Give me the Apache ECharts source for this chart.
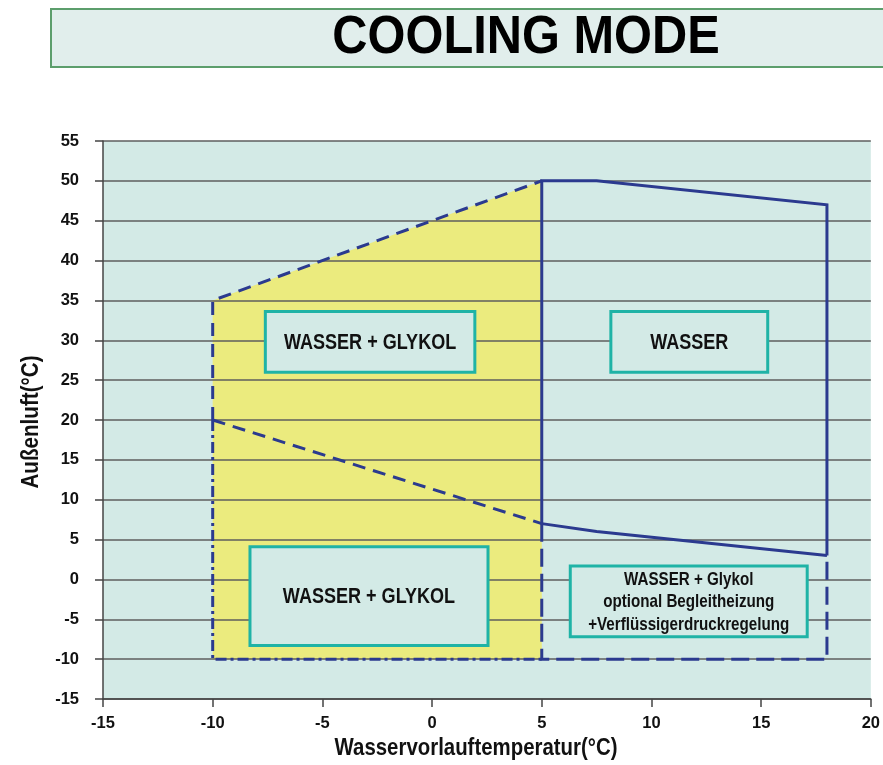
<!DOCTYPE html>
<html>
<head>
<meta charset="utf-8">
<script src="https://cdn.jsdelivr.net/npm/echarts@6/dist/echarts.min.js"></script>
<style>html,body{margin:0;padding:0;background:#fff}#c{width:883px;height:765px}</style>
</head>
<body>
<div id="c"></div>
<script>
// ---- data ----
const xTicks = [-15, -10, -5, 0, 5, 10, 15, 20];
const yTicks = [-15, -10, -5, 0, 5, 10, 15, 20, 25, 30, 35, 40, 45, 50, 55];
// yellow (water + glycol) region
const glycolArea = [[-10, -10], [-10, 35], [5, 50], [5, -10]];
// envelope boundary paths
const solidUpper = [[5, 7], [5, 50], [7.5, 50], [18, 47], [18, 3]];
const solidLower = [[5, 7], [7.5, 6], [18, 3]];
const dashedTop = [[-10, 20], [-10, 35], [5, 50]];
const dashedLower = [[-10, 20], [5, 7]];
const dashedRight = [[5, 7], [5, -10], [18, -10], [18, 3]];
const dashDotLeft = [[-10, 20], [-10, -10], [5, -10]];
// annotation boxes [x1, y1, x2, y2]
const boxes = [[-7.6, 33.6, 1.95, 26.0], [8.15, 33.6, 15.3, 26.0], [-8.3, 4.1, 2.55, -8.3], [6.3, 1.7, 17.1, -7.2]];
const boxTexts = ['WASSER + GLYKOL', 'WASSER', 'WASSER + GLYKOL', 'WASSER + Glykol\noptional Begleitheizung\n+Verflüssigerdruckregelung'];
const boxFontSizes = [22, 22, 22, 18.5];

const NAVY = '#2b3a8f';
const FONT = '"Liberation Sans", Arial, sans-serif';
const NARROW = 0.82;

function lineSeries(data, type) {
  return {
    type: 'line', data: data, symbol: 'none', z: 4, silent: true,
    lineStyle: { color: NAVY, width: 3, type: type, cap: 'butt', join: 'miter' },
    animation: false
  };
}

const chart = echarts.init(document.getElementById('c'), null, { renderer: 'canvas' });
chart.setOption({
  animation: false,
  grid: { left: 103, right: 10, top: 141, bottom: 66, show: true, backgroundColor: '#d3eae6', borderWidth: 0 },
  xAxis: {
    type: 'value', min: -15, max: 20, interval: 5, z: 3,
    axisLine: { show: true, onZero: false, lineStyle: { color: '#444', width: 1.5 } },
    axisTick: { show: true, length: 8, lineStyle: { color: '#444', width: 1.5 } },
    splitLine: { show: false },
    axisLabel: { margin: 16, fontFamily: FONT, fontWeight: 'bold', fontSize: 16.5, color: '#111',
      formatter: v => xTicks.indexOf(v) >= 0 ? String(v) : '' }
  },
  yAxis: {
    type: 'value', min: -15, max: 55, interval: 5, z: 3,
    axisLine: { show: true, onZero: false, lineStyle: { color: '#444', width: 1.5 } },
    axisTick: { show: true, length: 8, lineStyle: { color: '#444', width: 1.5 } },
    splitLine: { show: true, lineStyle: { color: '#5e5e5e', width: 1.6 } },
    axisLabel: { margin: 24, fontFamily: FONT, fontWeight: 'bold', fontSize: 16.5, color: '#111',
      formatter: v => yTicks.indexOf(v) >= 0 ? String(v) : '' }
  },
  series: [
    {
      type: 'custom', z: 1, silent: true, data: [0],
      renderItem: function (params, api) {
        const pts = glycolArea.map(p => api.coord(p));
        return { type: 'polygon', shape: { points: pts }, style: { fill: '#ebeb7e' } };
      }
    },
    lineSeries(solidUpper, 'solid'),
    lineSeries(solidLower, 'solid'),
    lineSeries(dashedTop, [13, 8]),
    lineSeries(dashedLower, [13, 8]),
    lineSeries(dashedRight, [18, 7]),
    lineSeries(dashDotLeft, [11, 4, 3, 4]),
    {
      type: 'custom', z: 5, silent: true, data: boxes,
      renderItem: function (params, api) {
        const b = boxes[params.dataIndex];
        const p1 = api.coord([b[0], b[1]]);
        const p2 = api.coord([b[2], b[3]]);
        const fs = boxFontSizes[params.dataIndex];
        return {
          type: 'group',
          children: [
            { type: 'rect', shape: { x: p1[0], y: p1[1], width: p2[0] - p1[0], height: p2[1] - p1[1] },
              style: { fill: '#d3eae6', stroke: '#1fb3a6', lineWidth: 3 } },
            { type: 'text', x: (p1[0] + p2[0]) / 2, y: (p1[1] + p2[1]) / 2 + 1, scaleX: NARROW,
              style: { x: 0, y: 0,
              text: boxTexts[params.dataIndex], align: 'center', verticalAlign: 'middle',
              font: 'bold ' + fs + 'px ' + FONT, fill: '#111', lineHeight: fs * 1.2 } }
          ]
        };
      }
    }
  ],
  graphic: [
    { type: 'rect', left: 50, top: 8, shape: { width: 850, height: 58 },
      style: { fill: '#e1eeec', stroke: '#5c9e6c', lineWidth: 2 }, z: 10 },
    { type: 'text', x: 526, y: 38, z: 11, scaleX: 0.92, scaleY: 1.0,
      style: { x: 0, y: 0, text: 'COOLING MODE', align: 'center', verticalAlign: 'middle',
        font: 'bold 53px ' + FONT, fill: '#000' } },
    { type: 'text', x: 31, y: 422, rotation: Math.PI / 2, z: 11, scaleX: 0.86,
      style: { x: 0, y: 0, text: 'Außenluft(°C)', align: 'center', verticalAlign: 'middle',
        font: 'bold 24px ' + FONT, fill: '#111' } },
    { type: 'text', x: 476, y: 748, z: 11, scaleX: 0.85,
      style: { x: 0, y: 0, text: 'Wasservorlauftemperatur(°C)', align: 'center', verticalAlign: 'middle',
        font: 'bold 24px ' + FONT, fill: '#111' } }
  ]
});
</script>
</body>
</html>
